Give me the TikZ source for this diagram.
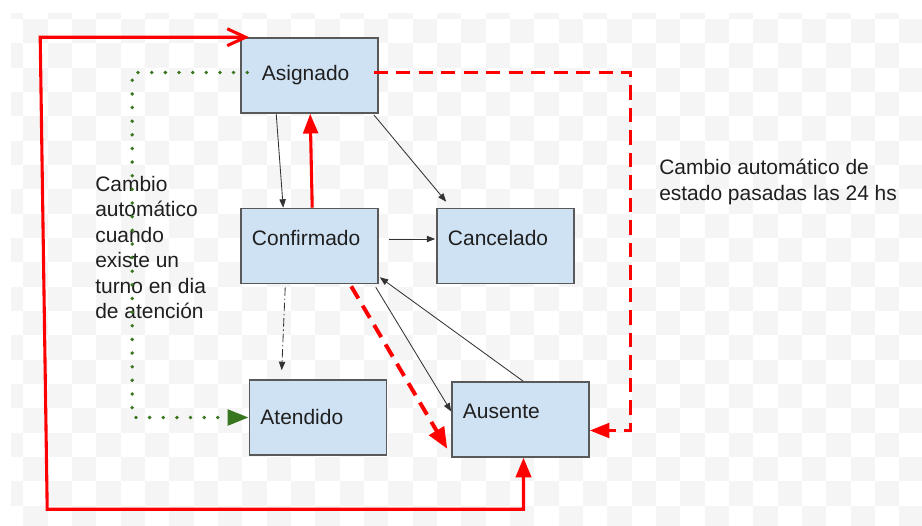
\documentclass[tikz,border=0pt]{standalone}
\usepackage{fontspec}
\setmainfont{Liberation Sans}
\usetikzlibrary{arrows.meta,calc}
\definecolor{boxfill}{HTML}{CFE2F3}
\definecolor{boxline}{HTML}{595959}
\definecolor{dotgreen}{HTML}{38761D}
\definecolor{chkgray}{HTML}{F5F5F5}

\begin{document}
\begin{tikzpicture}[x=0.025cm, y=-0.025cm,
  every node/.style={font=\fontsize{14.9}{18.1}\selectfont, text=black!88},
  state/.style={rectangle, draw=boxline, fill=boxfill, line width=1.1pt, minimum width=3.425cm, minimum height=1.875cm, text width=2.875cm, inner xsep=0.275cm, align=left},
  raised/.style={text depth=0.4cm},
  note/.style={anchor=north west, align=left, inner sep=0pt},
  thin arrow/.style={draw=black!80, line width=0.6pt, -{Triangle[length=6pt,width=4.5pt]}},
  dash dot/.style={dash pattern=on 6pt off 2pt on 1pt off 2pt},
  red arrow/.style={draw=red, line width=2.2pt, -{Triangle[length=14pt,width=10.5pt]}},
  red dash/.style={red arrow, dash pattern=on 10pt off 6pt},
  green dots/.style={draw=dotgreen, line width=2.7pt, line cap=round, dash pattern=on 0pt off 9.7pt, -{Triangle[length=15pt,width=11pt]}},
  red loop/.style={draw=red, line width=2.2pt, {Straight Barb[length=13pt,width=12pt]}-{Triangle[length=14pt,width=11pt]}}
]
  \useasboundingbox (0,0) rectangle (922,526);
  \fill[white] (0,0) rectangle (922,526);
  \begin{scope}
    \clip (11,13) rectangle (922,526);
    \foreach \i in {0,...,37}
      \foreach \j in {0,...,11}
        \fill[chkgray] ({-1+24.33*\i},{-5.3+24.33*(2*\j+mod(\i,2))}) rectangle ++(24.33,24.33);
  \end{scope}

  \node[state] (asignado) at (309.5, 75.5) {\hspace*{0.25cm}Asignado};
  \node[state, raised] (confirmado) at (309.5, 246) {Confirmado};
  \node[state, raised] (cancelado) at (505.5, 246) {Cancelado};
  \node[state] (atendido) at (318, 417.5) {Atendido};
  \node[state, raised] (ausente) at (520.5, 419.5) {Ausente};

  \node[note] (nota1) at (95, 176) {Cambio\\automático\\cuando\\existe un\\turno en dia\\de atención};
  \node[note] (nota2) at (659, 159) {Cambio automático de\\estado pasadas las 24 hs};

  \draw[thin arrow] ($(asignado.south west)+(36,0)$) -- ($(confirmado.north west)+(43,0)$);
  \draw[red arrow] ($(confirmado.north west)+(72,0)$) -- ($(asignado.south west)+(70,0)$);
  \draw[thin arrow] ($(asignado.south east)+(-5,1)$) -- ($(cancelado.north west)+(10,-6)$);
  \draw[thin arrow] ($(confirmado.east)+(10,-7)$) -- ($(cancelado.west)+(-1,-7)$);
  \draw[thin arrow, dash dot] ($(confirmado.south west)+(45,3)$) -- ($(atendido.north west)+(33,-9)$);
  \draw[red dash, line width=2.8pt, -{Triangle[length=15pt,width=12pt]}] ($(confirmado.south west)+(111,2)$) -- ($(ausente.south west)+(-4,-9)$);
  \draw[thin arrow] ($(confirmado.south east)+(-3,3)$) -- ($(ausente.west)+(0,-8)$);
  \draw[thin arrow] ($(ausente.north west)+(72,0)$) -- ($(confirmado.south east)+(1,-7)$);
  \draw[red dash] ($(asignado.east)+(-5,-3)$) -- ++(257,0) |- ($(ausente.east)+(0,11)$);
  \draw[green dots] ($(asignado.west)+(7,-3)$) -- ++(-115,0) |- (atendido.west);
  \draw[red loop] ($(asignado.north west)+(9,0)$) -- ++(-209,0) -- ++(7,472) -| ($(ausente.south)+(3,0)$);
\end{tikzpicture}
\end{document}
